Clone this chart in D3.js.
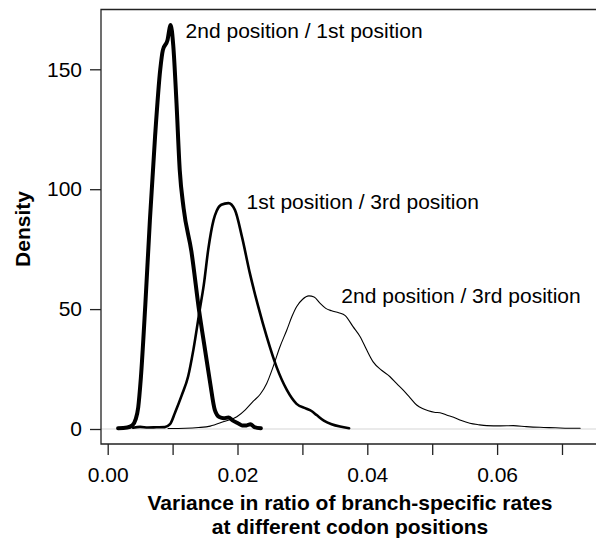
<!DOCTYPE html>
<html>
<head>
<meta charset="utf-8">
<script src="https://cdn.jsdelivr.net/npm/d3@7"></script>
<style>
  html, body { margin: 0; padding: 0; background: #fff; }
  svg { display: block; }
  text { font-family: "Liberation Sans", Arial, Helvetica, sans-serif; fill: #000; }
</style>
</head>
<body>
<svg id="chart" width="596" height="539"></svg>
<script>
// ---- data ----
const xTicks = [0, 0.01, 0.02, 0.03, 0.04, 0.05, 0.06, 0.07];
const xTickLabels = ["0.00", "", "0.02", "", "0.04", "", "0.06", ""];
const yTicks = [0, 50, 100, 150];
const yTickLabels = ["0", "50", "100", "150"];

const seriesNames = ["2nd position / 1st position", "1st position / 3rd position", "2nd position / 3rd position"];

// 2nd position / 1st position (thick)
const x21 = [0.0016, 0.0030, 0.0038, 0.0043, 0.0047, 0.0051, 0.0058, 0.0065, 0.0073, 0.0081, 0.0085, 0.0092, 0.0097, 0.0101, 0.0106, 0.0111, 0.0117, 0.0129, 0.0141, 0.0150, 0.0158, 0.0165, 0.0172, 0.0179, 0.0186, 0.0193, 0.0200, 0.0207, 0.0214, 0.0220, 0.0226, 0.0236];
const d21 = [0.3, 0.6, 1.5, 4, 9, 21, 52, 87, 122, 150, 158, 162, 168.5, 160, 136, 108, 92, 74, 49, 33, 19, 8, 5, 4.5, 4.8, 3.5, 2.5, 1.5, 1.5, 2, 0.8, 0.3];

// 1st position / 3rd position (medium)
const x13 = [0.0039, 0.0050, 0.0062, 0.0075, 0.0088, 0.0096, 0.0104, 0.0114, 0.0124, 0.0132, 0.0142, 0.0148, 0.0155, 0.0163, 0.0168, 0.0175, 0.0186, 0.0196, 0.0207, 0.0219, 0.0232, 0.0245, 0.0260, 0.0276, 0.0291, 0.0305, 0.0314, 0.0322, 0.0333, 0.0345, 0.0358, 0.0372];
const d13 = [0.5, 0.9, 0.6, 0.7, 0.8, 2, 7, 14, 22, 33, 50, 60, 75, 87, 91, 93.5, 94.2, 91.4, 80, 65, 51, 38.5, 26, 16.3, 10.5, 8.6, 7.5, 5.8, 3.5, 2, 1, 0.3];

// 2nd position / 3rd position (thin)
const x23 = [0.0093, 0.0120, 0.0140, 0.0158, 0.0178, 0.0199, 0.0212, 0.0224, 0.0235, 0.0245, 0.0255, 0.0265, 0.0276, 0.0284, 0.0291, 0.0300, 0.0310, 0.0318, 0.0327, 0.0336, 0.0345, 0.0356, 0.0366, 0.0378, 0.0389, 0.0399, 0.0409, 0.0422, 0.0435, 0.0445, 0.0455, 0.0466, 0.0476, 0.0485, 0.0494, 0.0503, 0.0512, 0.0522, 0.0533, 0.0545, 0.0558, 0.0571, 0.0584, 0.0605, 0.0625, 0.0645, 0.0666, 0.0690, 0.0710, 0.0728];
const d23 = [0.2, 0.3, 0.6, 1.2, 3, 5.1, 8, 11.5, 14.5, 19, 26, 34, 41.3, 47, 51, 54, 55.5, 55, 52.5, 50.3, 49.3, 48.5, 47.3, 42.7, 38.5, 33, 28, 24.5, 21.8, 19, 16.3, 13, 10, 8.5, 7.6, 7, 6.8, 5.8, 4.9, 3.5, 2.4, 1.8, 1.4, 1.3, 1.4, 1, 0.7, 0.5, 0.3, 0.3];

const seriesX = [x21, x13, x23];
const seriesD = [d21, d13, d23];

// ---- layout ----
const svg = d3.select("#chart");
const fs = 21;
const box = { left: 101, top: 9.5, right: 640, bottom: 444 };

const x = d3.scaleLinear().domain([0, 0.07]).range([107.7, 562]);
const y = d3.scaleLinear().domain([0, 150]).range([429, 69.3]);

// grey zero line
svg.append("line")
  .attr("x1", box.left).attr("x2", box.right)
  .attr("y1", y(0)).attr("y2", y(0))
  .attr("stroke", "#d6d6d6").attr("stroke-width", 1.2);

// curves
const widths = [4, 2.6, 1.1];
const line = d3.line().x(p => x(p[0])).y(p => y(p[1])).curve(d3.curveMonotoneX);
seriesX.forEach((xs, i) => {
  const pts = xs.map((v, j) => [v, seriesD[i][j]]);
  svg.append("path")
    .datum(pts)
    .attr("d", line)
    .attr("fill", "none")
    .attr("stroke", "#000")
    .attr("stroke-width", widths[i])
    .attr("stroke-linejoin", "round")
    .attr("stroke-linecap", "round");
});

// box (left, top, bottom)
svg.append("path")
  .attr("d", `M${box.right},${box.top}H${box.left}V${box.bottom}H${box.right}`)
  .attr("fill", "none").attr("stroke", "#222").attr("stroke-width", 1.3);

// x axis
const xAxis = d3.axisBottom(x)
  .tickValues(xTicks)
  .tickSize(11)
  .tickPadding(12)
  .tickFormat((d, i) => xTickLabels[i]);
const gx = svg.append("g").attr("transform", `translate(0,${box.bottom})`).call(xAxis);
gx.select(".domain").remove();
gx.selectAll(".tick line").attr("stroke", "#222").attr("stroke-width", 1.3);
gx.selectAll(".tick text").attr("font-size", fs).attr("font-family", null).attr("fill", "#000");

// y axis
const yAxis = d3.axisLeft(y)
  .tickValues(yTicks)
  .tickSize(11)
  .tickPadding(8)
  .tickFormat((d, i) => yTickLabels[i]);
const gy = svg.append("g").attr("transform", `translate(${box.left},0)`).call(yAxis);
gy.select(".domain").remove();
gy.selectAll(".tick line").attr("stroke", "#222").attr("stroke-width", 1.3);
gy.selectAll(".tick text").attr("font-size", fs).attr("font-family", null).attr("fill", "#000");

// series labels
const labelPos = [[0.0120, 166], [0.0214, 94.5], [0.0360, 55.5]];
seriesNames.forEach((name, i) => {
  svg.append("text")
    .attr("x", x(labelPos[i][0]))
    .attr("y", y(labelPos[i][1]) + 7)
    .attr("font-size", fs)
    .text(name);
});

// axis titles
svg.append("text")
  .attr("x", 350).attr("y", 510)
  .attr("text-anchor", "middle").attr("font-size", fs).attr("font-weight", "bold")
  .text("Variance in ratio of branch-specific rates");
svg.append("text")
  .attr("x", 350).attr("y", 533.5)
  .attr("text-anchor", "middle").attr("font-size", fs).attr("font-weight", "bold")
  .text("at different codon positions");
svg.append("text")
  .attr("transform", `translate(30,229) rotate(-90)`)
  .attr("text-anchor", "middle").attr("font-size", fs).attr("font-weight", "bold")
  .text("Density");
</script>
</body>
</html>
